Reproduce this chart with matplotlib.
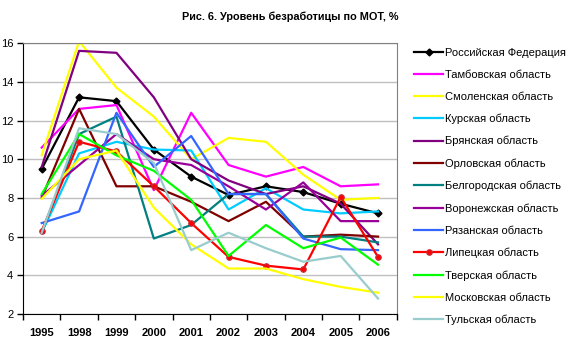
import matplotlib.pyplot as plt

plt.rcParams['font.family'] = ['Liberation Sans', 'DejaVu Sans']

years = ['1995', '1998', '1999', '2000', '2001', '2002', '2003', '2004', '2005', '2006']

russia = [9.5, 13.2, 13.0, 10.5, 9.1, 8.15, 8.6, 8.3, 7.7, 7.2]
tambov = [10.6, 12.6, 12.8, 8.4, 12.4, 9.7, 9.1, 9.6, 8.6, 8.7]
smolensk = [10.2, 16.1, 13.7, 12.2, 10.0, 11.1, 10.9, 9.2, 7.9, 8.0]
kursk = [6.2, 10.3, 10.9, 10.5, 10.45, 7.4, 8.5, 7.4, 7.2, 7.3]
bryansk = [9.6, 15.6, 15.5, 13.2, 10.0, 8.9, 8.2, 8.6, 7.7, 5.6]
orel = [8.0, 12.6, 8.6, 8.6, 7.8, 6.8, 7.8, 6.0, 6.1, 6.0]
belgorod = [6.2, 11.3, 12.2, 5.9, 6.6, 8.2, 8.2, 6.0, 6.0, 5.7]
voronezh = [8.1, 9.7, 11.3, 10.0, 9.7, 8.6, 7.4, 8.8, 6.8, 6.8]
ryazan = [6.7, 7.3, 12.4, 9.6, 11.2, 8.2, 8.2, 5.9, 5.35, 5.3]
lipetsk = [6.3, 10.9, 10.4, 8.6, 6.7, 4.95, 4.5, 4.3, 8.05, 4.95]
tver = [8.2, 11.3, 10.2, 9.4, 7.9, 5.0, 6.6, 5.4, 5.95, 4.55]
moscow = [7.95, 10.0, 10.45, 7.5, 5.6, 4.35, 4.35, 3.8, 3.4, 3.1]
tula = [6.2, 11.6, 11.3, 9.8, 5.3, 6.2, 5.4, 4.7, 5.0, 2.8]

# label, values, colour, marker
series = [
    ('Российская Федерация', russia, 'black', 'D'),
    ('Тамбовская область', tambov, '#FF00FF', None),
    ('Смоленская область', smolensk, '#FFFF00', None),
    ('Курская область', kursk, '#00CCFF', None),
    ('Брянская область', bryansk, '#800080', None),
    ('Орловская область', orel, '#800000', None),
    ('Белгородская область', belgorod, '#008080', None),
    ('Воронежская область', voronezh, '#990099', None),
    ('Рязанская область', ryazan, '#3366FF', None),
    ('Липецкая область', lipetsk, '#FF0000', 'o'),
    ('Тверская область', tver, '#00FF00', None),
    ('Московская область', moscow, '#FFFF00', None),
    ('Тульская область', tula, '#99CCCC', None),
]

fig = plt.figure(figsize=(5.8, 3.45), dpi=100)
ax = fig.add_axes([0.0397, 0.0899, 0.6443, 0.7851])

x = list(range(len(years)))
for label, values, color, marker in series:
    if marker == 'D':
        ax.plot(x, values, color=color, lw=1.6, marker='D', ms=3.5,
                mfc=color, mec=color, label=label)
    elif marker == 'o':
        ax.plot(x, values, color=color, lw=1.6, marker='o', ms=4,
                mfc=color, mec='#C03040', mew=0.8, label=label)
    else:
        ax.plot(x, values, color=color, lw=1.6, label=label)

ax.set_xlim(-0.5, len(years) - 0.5)
ax.set_ylim(2, 16)
ax.set_yticks(range(2, 17, 2))
ax.yaxis.grid(True, color='#C0C0C0', lw=1)
ax.set_axisbelow(True)

# category borders get the tick marks, centres get the labels
ax.set_xticks([i - 0.5 for i in range(len(years) + 1)])
ax.set_xticklabels([])
ax.set_xticks(x, minor=True)
ax.set_xticklabels(years, minor=True, fontsize=8, fontweight='bold')
ax.tick_params(axis='x', which='major', direction='out', length=4, width=1)
ax.tick_params(axis='x', which='minor', length=0, pad=10)
ax.tick_params(axis='y', direction='out', length=4, width=1, labelsize=8, pad=3)

ax.spines['left'].set_color('black')
ax.spines['bottom'].set_color('black')
ax.spines['top'].set_color('#808080')
ax.spines['right'].set_color('#808080')

fig.text(0.5, 0.95, 'Рис. 6. Уровень безработицы по МОТ, %', ha='center',
         va='center', fontsize=7.8, fontweight='bold')

ax.legend(loc='upper left', bbox_to_anchor=(1.035, 1.0), frameon=False,
          fontsize=8, handlelength=2.6, handletextpad=0.2,
          labelspacing=1.08, borderaxespad=0.0)

fig.savefig('out.png', dpi=100)
